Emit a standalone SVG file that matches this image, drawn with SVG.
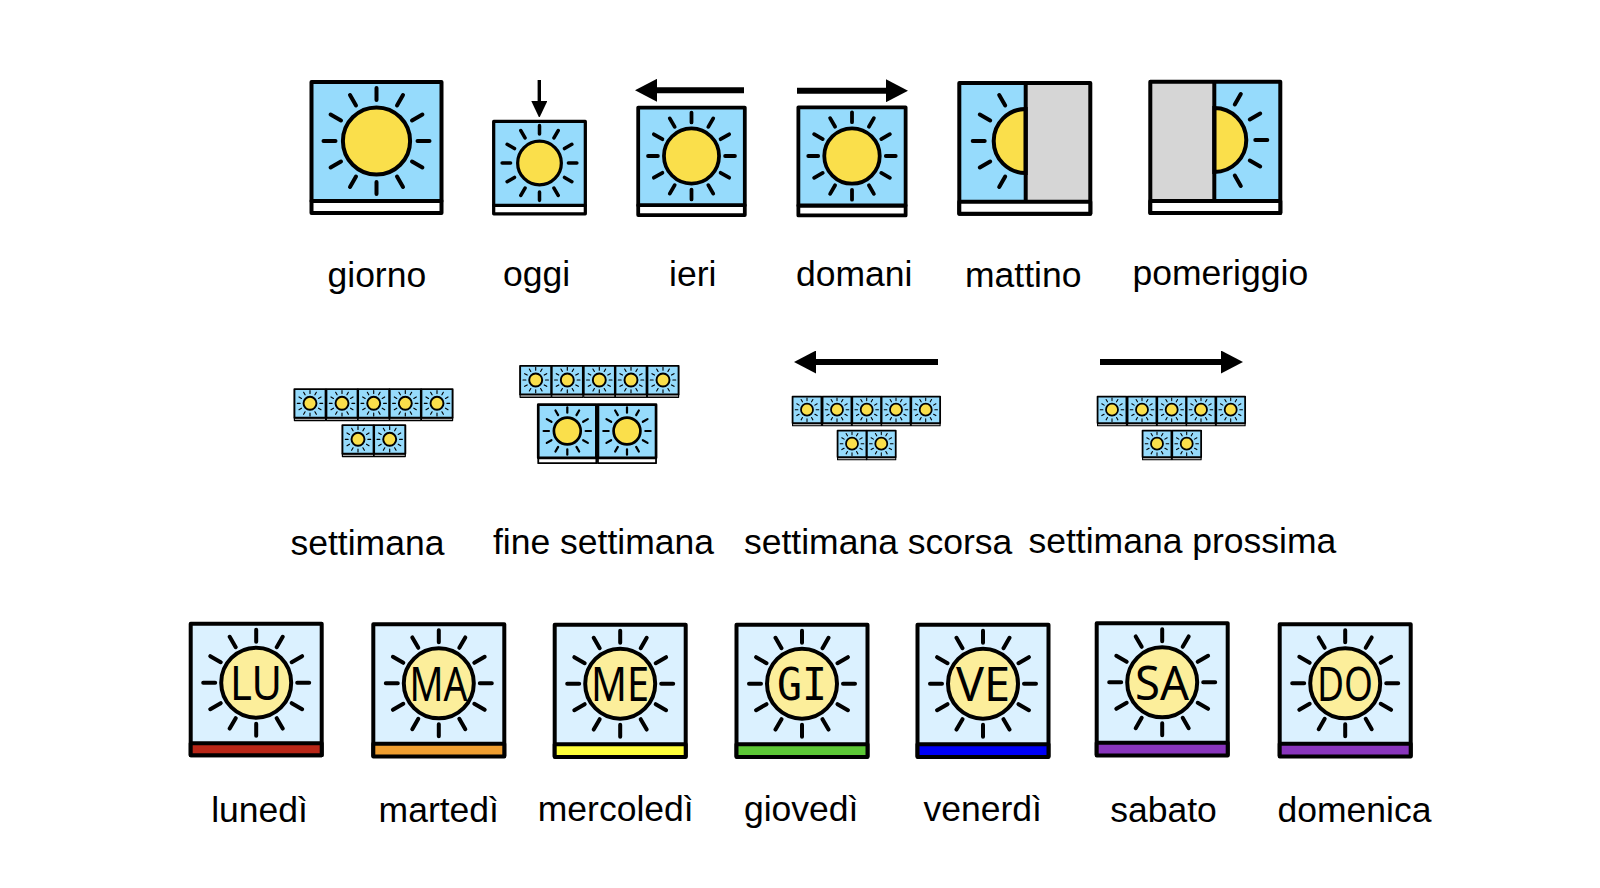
<svg xmlns="http://www.w3.org/2000/svg" width="1600" height="888" viewBox="0 0 1600 888">
<style>
text{font-family:"Liberation Sans",Arial,sans-serif;font-size:35.5px;fill:#000}
.abbr{font-family:"Noto Sans",sans-serif;font-size:48px;text-anchor:middle}
.mono{font-family:"DejaVu Sans Mono",monospace;font-size:45px}
.t{--b:4;--bb:4;--r:4;--d:33.6;--w:#fff}
.o{--b:4.6;--bb:4.6;--r:5;--d:31;--w:#fff}
.k{--b:4.6;--bb:4.6;--r:4.6;--d:33.6;--w:#fff}
.mid{--b:6;--bb:4;--r:5;--d:30;--w:#fff}
.mini{--b:8;--bb:5;--r:4.8;--d:27;--w:#a8a8a8}
.box{fill:#96dbfc;stroke:#000;stroke-width:var(--b);stroke-linejoin:round}
.bar{fill:var(--w);stroke:#000;stroke-width:var(--bb);stroke-linejoin:round}
.ray{fill:none;stroke:#000;stroke-width:var(--r);stroke-linecap:round}
.disc{fill:#fadf4b;stroke:#000;stroke-width:var(--b);r:var(--d)}
.dbox{fill:#dbf1ff;stroke:#000;stroke-width:4;stroke-linejoin:round}
.ddisc{fill:#fcee9b;stroke:#000;stroke-width:4}
.dbar{stroke:#000;stroke-width:4;stroke-linejoin:round}
.dray{fill:none;stroke:#000;stroke-width:4;stroke-linecap:round}
.shaft{stroke:#000;stroke-width:6;fill:none}
.thin{stroke:#000;stroke-width:3.4;fill:none}
.hs{fill:#96dbfc;stroke:none}
.gr{fill:#d6d6d6;stroke:none}
.ln{fill:none;stroke:#000;stroke-width:4;stroke-linejoin:round}
.wh{fill:#fff;stroke:#000;stroke-width:4;stroke-linejoin:round}
.half{fill:#fadf4b;stroke:#000;stroke-width:4}
.hray{fill:none;stroke:#000;stroke-width:4;stroke-linecap:round}
</style>
<defs>
<path id="rayset" d="M0-41V-53M0 41V53M-41 0H-53M41 0H53M20.5-35.5L26.5-45.9M-20.5-35.5L-26.5-45.9M20.5 35.5L26.5 45.9M-20.5 35.5L-26.5 45.9M35.5-20.5L45.9-26.5M-35.5-20.5L-45.9-26.5M35.5 20.5L45.9 26.5M-35.5 20.5L-45.9 26.5"/>
<g id="tile">
<rect class="bar" x="-65" y="60" width="130" height="12"/>
<rect class="box" x="-65" y="-59" width="130" height="119"/>
<use href="#rayset" class="ray"/>
<circle class="disc" r="33.6"/>
</g>
<g id="daytile">
<rect class="dbox" x="-65.5" y="-59" width="131" height="131.5"/>
<use href="#rayset" class="dray"/>
<circle class="ddisc" r="35"/>
</g>
<marker id="ah" markerUnits="userSpaceOnUse" markerWidth="22" markerHeight="23" refX="0" refY="11.5" orient="auto"><path d="M0 0L22 11.5L0 23Z" fill="#000"/></marker>
<marker id="ahs" markerUnits="userSpaceOnUse" markerWidth="16" markerHeight="18" refX="0" refY="8" orient="auto"><path d="M0 0L17 8L0 16Z" fill="#000"/></marker>
</defs>
<rect width="1600" height="888" fill="#fff"/>

<g id="connectors">
<line class="shaft" x1="744" y1="90.3" x2="657" y2="90.3" marker-end="url(#ah)"/>
<line class="shaft" x1="797" y1="90.7" x2="886" y2="90.7" marker-end="url(#ah)"/>
<line class="thin" x1="539.3" y1="80" x2="539.3" y2="101" marker-end="url(#ahs)"/>
<line class="shaft" x1="938" y1="362" x2="816" y2="362" marker-end="url(#ah)"/>
<line class="shaft" x1="1100" y1="362" x2="1221" y2="362" marker-end="url(#ah)"/>
</g>

<g id="giorno"><use href="#tile" class="t" transform="translate(376.5 141)"/><text x="327.5" y="286.5">giorno</text></g>
<g id="oggi"><use href="#tile" class="o" transform="translate(539.5 163) scale(.705)"/><text x="503" y="285.5">oggi</text></g>
<g id="ieri"><use href="#tile" class="k" transform="translate(691.5 156) scale(.82)"/><text x="669" y="285.5">ieri</text></g>
<g id="domani"><use href="#tile" class="k" transform="translate(852 156) scale(.825)"/><text x="796" y="286">domani</text></g>
<g id="mattino">
<rect class="hs" x="959.3" y="83" width="66.4" height="119"/>
<rect class="gr" x="1025.7" y="83" width="65" height="119"/>
<path class="half" d="M1025.7 109A32 32 0 0 0 1025.7 173Z"/>
<path class="hray" d="M984.7 141H972.7M990.2 120.5L979.8 114.5M990.2 161.5L979.8 167.5M1005.2 105.5L999.2 95.1M1005.2 176.5L999.2 186.9"/>
<rect class="ln" x="959.3" y="83" width="131" height="130.7"/>
<rect class="wh" x="959.3" y="201.7" width="131" height="12"/>
<line class="ln" x1="1025.7" y1="83" x2="1025.7" y2="201.7"/>
<text x="965" y="286.5">mattino</text>
</g>
<g id="pomeriggio">
<rect class="gr" x="1150.3" y="81.7" width="64" height="119"/>
<rect class="hs" x="1214.3" y="81.7" width="65.7" height="119"/>
<path class="half" d="M1214.3 108A32 32 0 0 1 1214.3 172Z"/>
<path class="hray" d="M1255.3 140H1267.3M1249.8 119.5L1260.2 113.5M1249.8 160.5L1260.2 166.5M1234.8 104.5L1240.8 94.1M1234.8 175.5L1240.8 185.9"/>
<rect class="ln" x="1150.3" y="81.7" width="130" height="131.3"/>
<rect class="wh" x="1150.3" y="201" width="130" height="12"/>
<line class="ln" x1="1214.3" y1="81.7" x2="1214.3" y2="201"/>
<text x="1132.5" y="284.5">pomeriggio</text>
</g>

<g id="settimana">
<use href="#tile" class="mini" transform="translate(310 403.3) scale(.24)"/>
<use href="#tile" class="mini" transform="translate(342 403.3) scale(.24)"/>
<use href="#tile" class="mini" transform="translate(373.7 403.3) scale(.24)"/>
<use href="#tile" class="mini" transform="translate(405.3 403.3) scale(.24)"/>
<use href="#tile" class="mini" transform="translate(437 403.3) scale(.24)"/>
<use href="#tile" class="mini" transform="translate(358 439.3) scale(.24)"/>
<use href="#tile" class="mini" transform="translate(389.7 439.3) scale(.24)"/>
<text x="290.5" y="555">settimana</text>
</g>
<g id="fine-settimana">
<use href="#tile" class="mini" transform="translate(535.7 380) scale(.24)"/>
<use href="#tile" class="mini" transform="translate(567.3 380) scale(.24)"/>
<use href="#tile" class="mini" transform="translate(599.3 380) scale(.24)"/>
<use href="#tile" class="mini" transform="translate(631 380) scale(.24)"/>
<use href="#tile" class="mini" transform="translate(663 380) scale(.24)"/>
<use href="#tile" class="mid" transform="translate(567.3 431) scale(.447)"/>
<use href="#tile" class="mid" transform="translate(627 431) scale(.447)"/>
<text x="493" y="554">fine settimana</text>
</g>
<g id="settimana-scorsa">
<use href="#tile" class="mini" transform="translate(807 409.7) scale(.222)"/>
<use href="#tile" class="mini" transform="translate(837 409.7) scale(.222)"/>
<use href="#tile" class="mini" transform="translate(866.7 409.7) scale(.222)"/>
<use href="#tile" class="mini" transform="translate(896 409.7) scale(.222)"/>
<use href="#tile" class="mini" transform="translate(925.7 409.7) scale(.222)"/>
<use href="#tile" class="mini" transform="translate(852 443.7) scale(.222)"/>
<use href="#tile" class="mini" transform="translate(881.3 443.7) scale(.222)"/>
<text x="744" y="554">settimana scorsa</text>
</g>
<g id="settimana-prossima">
<use href="#tile" class="mini" transform="translate(1112 409.7) scale(.222)"/>
<use href="#tile" class="mini" transform="translate(1142 409.7) scale(.222)"/>
<use href="#tile" class="mini" transform="translate(1171.7 409.7) scale(.222)"/>
<use href="#tile" class="mini" transform="translate(1201 409.7) scale(.222)"/>
<use href="#tile" class="mini" transform="translate(1230.7 409.7) scale(.222)"/>
<use href="#tile" class="mini" transform="translate(1157 443.7) scale(.222)"/>
<use href="#tile" class="mini" transform="translate(1186.7 443.7) scale(.222)"/>
<text x="1028.5" y="553">settimana prossima</text>
</g>

<g id="lunedi"><use href="#daytile" transform="translate(256.2 682.7)"/><rect class="dbar" x="190.7" y="743.2" width="131" height="12" fill="#b92718"/><text class="abbr" x="256" y="700" textLength="52" lengthAdjust="spacingAndGlyphs">LU</text><text x="211.2" y="822">lunedì</text></g>
<g id="martedi"><use href="#daytile" transform="translate(438.8 683.3)"/><rect class="dbar" x="373.3" y="743.8" width="131" height="12.7" fill="#ef9e30"/><text class="abbr" x="438.5" y="700.5" textLength="58" lengthAdjust="spacingAndGlyphs">MA</text><text x="378.6" y="821.5">martedì</text></g>
<g id="mercoledi"><use href="#daytile" transform="translate(620.2 683.7)"/><rect class="dbar" x="554.7" y="744.2" width="131" height="12.7" fill="#ffff3b"/><text class="abbr" x="620" y="701" textLength="58" lengthAdjust="spacingAndGlyphs">ME</text><text x="537.8" y="821">mercoledì</text></g>
<g id="giovedi"><use href="#daytile" transform="translate(802 683.7)"/><rect class="dbar" x="736.5" y="744.2" width="131" height="12.7" fill="#5cc836"/><text class="abbr mono" x="802" y="700" textLength="50" lengthAdjust="spacingAndGlyphs">GI</text><text x="743.9" y="821">giovedì</text></g>
<g id="venerdi"><use href="#daytile" transform="translate(983 683.7)"/><rect class="dbar" x="917.5" y="744.2" width="131" height="12.7" fill="#0000f5"/><text class="abbr" x="983" y="701" textLength="54" lengthAdjust="spacingAndGlyphs">VE</text><text x="923.5" y="821">venerdì</text></g>
<g id="sabato"><use href="#daytile" transform="translate(1162.2 682.3)"/><rect class="dbar" x="1096.7" y="742.8" width="131" height="12.7" fill="#8935bc"/><text class="abbr" x="1162" y="699.5" textLength="54" lengthAdjust="spacingAndGlyphs">SA</text><text x="1110.2" y="822">sabato</text></g>
<g id="domenica"><use href="#daytile" transform="translate(1345.2 683.3)"/><rect class="dbar" x="1279.7" y="743.8" width="131" height="12.7" fill="#8935bc"/><text class="abbr" x="1345" y="700.5" textLength="56" lengthAdjust="spacingAndGlyphs">DO</text><text x="1277.5" y="822">domenica</text></g>
</svg>
